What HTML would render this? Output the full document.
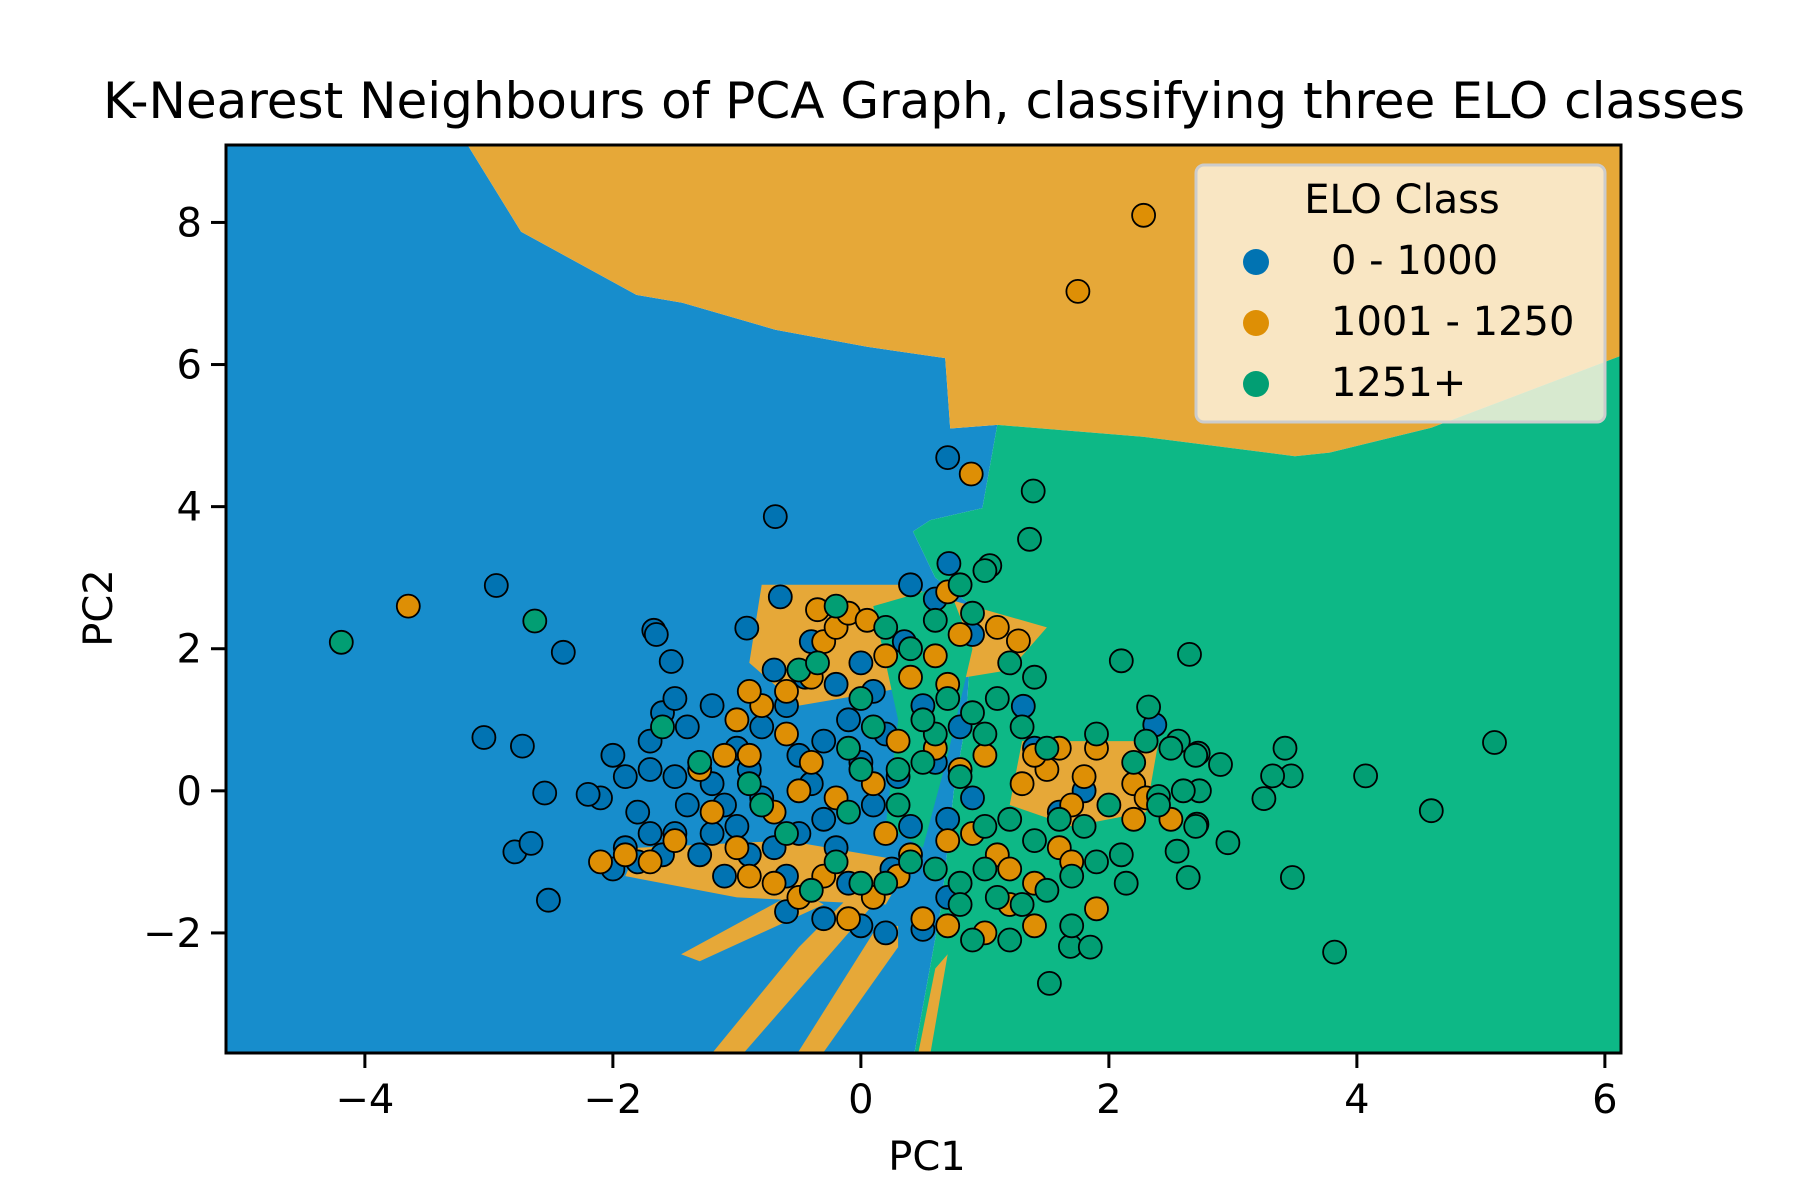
<!DOCTYPE html>
<html><head><meta charset="utf-8"><style>
html,body{margin:0;padding:0;background:#fff}
svg{display:block;font-family:"DejaVu Sans","Liberation Sans",sans-serif}
</style></head><body>
<svg id="chart" width="1800" height="1200" viewBox="0 0 1800 1200">
<defs><clipPath id="clip"><rect x="226" y="145" width="1395" height="908"/></clipPath></defs>
<text x="924" y="118" text-anchor="middle" font-size="50" fill="#000">K-Nearest Neighbours of PCA Graph, classifying three ELO classes</text>
<g id="regions" clip-path="url(#clip)"></g>
<g id="points" clip-path="url(#clip)"></g>
<rect x="226" y="145" width="1395" height="908" fill="none" stroke="#000" stroke-width="3"/>
<g id="axes"></g>
<text x="927" y="1170" text-anchor="middle" font-size="40">PC1</text>
<text x="112" y="608" text-anchor="middle" font-size="40" transform="rotate(-90 112 608)">PC2</text>
<g>
<rect x="1196" y="165" width="409" height="257" rx="8" fill="#fbf1dc" fill-opacity="0.85" stroke="#ccc" stroke-width="3"/>
<text x="1402" y="213" text-anchor="middle" font-size="40">ELO Class</text>
<circle cx="1256" cy="262" r="13" fill="#0173b2"/>
<text x="1331" y="274" font-size="40">0 - 1000</text>
<circle cx="1256" cy="323" r="13" fill="#de8f05"/>
<text x="1331" y="335" font-size="40">1001 - 1250</text>
<circle cx="1256" cy="384" r="13" fill="#029e73"/>
<text x="1331" y="396" font-size="40">1251+</text>
</g>
</svg>
<script>
const xTicks=[-4,-2,0,2,4,6];
const yTicks=[-2,0,2,4,6,8];
const blueRegion=[[-5.2,9.2],[-3.21,9.2],[-2.74,7.87],[-1.81,6.98],[-1.44,6.87],[-0.69,6.49],[0.05,6.25],[0.68,6.09],[0.72,5.1],[1.1,5.15],[0.98,3.98],[0.56,3.81],[0.42,3.65],[0.6,3.0],[0.9,2.6],[0.85,1.0],[0.75,0.0],[0.65,-1.6],[0.42,-3.8],[-5.2,-3.8]];
const orangeTop=[[-3.21,9.2],[6.2,9.2],[6.2,6.17],[4.6,5.11],[3.78,4.76],[3.5,4.71],[2.29,4.98],[1.1,5.15],[0.72,5.1],[0.68,6.09],[0.05,6.25],[-0.69,6.49],[-1.44,6.87],[-1.81,6.98],[-2.74,7.87]];
const greenRegion=[[1.1,5.15],[2.29,4.98],[3.5,4.71],[3.78,4.76],[4.6,5.11],[6.2,6.17],[6.2,-3.8],[0.42,-3.8],[0.65,-1.6],[0.75,0.0],[0.85,1.0],[0.9,2.6],[0.6,3.0],[0.42,3.65],[0.56,3.81],[0.98,3.98]];
const orangePatches=[
[[-1.25,-3.8],[-1.0,-3.8],[-0.2,-2.2],[0.1,-1.6],[-0.1,-1.5],[-0.5,-2.2]],
[[-0.55,-3.8],[-0.35,-3.8],[0.3,-2.2],[0.3,-1.9],[0.1,-2.0]],
[[-1.45,-2.3],[-0.5,-1.4],[-0.3,-1.6],[-1.3,-2.4]],
[[-0.8,2.9],[0.3,2.9],[1.1,2.5],[1.5,2.3],[1.2,1.7],[0.5,1.5],[-0.5,1.2],[-0.9,1.8]],
[[1.3,0.7],[2.4,0.7],[2.3,-0.3],[1.7,-0.5],[1.2,-0.2]],
[[0.45,-3.8],[0.55,-3.8],[0.7,-2.3],[0.6,-2.5]],
[[-1.8,-0.8],[-0.6,-0.7],[0.4,-1.0],[0.2,-1.6],[-1.0,-1.5],[-1.9,-1.2]]];
const greenPatches=[[[0.1,2.6],[0.7,2.9],[0.9,2.0],[0.7,0.5],[0.5,-0.8],[0.2,-0.5],[0.3,1.0]]];
const blueX=[-0.69,-2.94,-2.4,-3.04,-2.73,-2.55,-2.52,-2.79,-2.66,0.7,0.71,2.37,-1.67,-1.65,-1.53,-0.92,-0.65,1.31,-2.0,-1.9,-2.1,-1.8,-1.7,-1.6,-1.5,-1.4,-1.3,-1.2,-1.1,-1.0,-0.9,-1.5,-1.6,-1.8,-2.0,-1.9,-1.3,-1.1,-0.8,-0.7,-0.6,-0.5,-0.4,-0.3,-0.2,-0.1,-0.6,-0.6,-0.3,0.0,0.2,0.5,0.7,0.4,0.3,0.2,0.1,0.0,-0.2,-0.4,-0.1,0.1,0.5,0.6,0.7,0.8,0.9,0.6,0.4,0.35,-0.5,-0.8,-1.0,-1.2,-1.7,-1.4,-0.9,-0.3,0.0,-2.2,-1.5,1.4,1.8,1.6,0.25,-0.7,-1.2,-1.7,0.9,-0.45];
const blueY=[3.86,2.89,1.95,0.75,0.63,-0.03,-1.54,-0.86,-0.74,4.69,3.2,0.93,2.26,2.2,1.82,2.29,2.73,1.19,0.5,0.2,-0.1,-0.3,0.7,1.1,1.3,0.9,0.4,0.1,-0.2,-0.5,-0.9,-0.6,-0.9,-1.0,-1.1,-0.8,-0.9,-1.2,0.9,1.7,1.2,0.5,0.1,-0.4,-0.8,-1.3,-1.2,-1.7,-1.8,-1.9,-2.0,-1.95,-1.5,-0.5,0.2,0.8,1.4,1.8,1.5,2.1,1.0,-0.2,1.2,0.4,-0.4,0.9,2.2,2.7,2.9,2.1,-0.6,-0.1,0.6,1.2,0.3,-0.2,0.3,0.7,0.4,-0.05,0.2,0.6,0.0,-0.3,-1.1,-0.8,-0.6,-0.6,-0.1,1.6];
const orangeX=[-3.65,2.28,1.75,0.89,1.9,1.27,-2.1,-1.9,-1.7,-1.5,-1.3,-1.1,-1.0,-0.8,-0.6,-0.4,-0.3,-0.2,-0.1,0.05,0.2,0.4,0.6,0.7,0.8,1.1,-0.9,-0.7,-0.5,-0.3,-0.1,0.1,0.3,0.5,0.7,0.9,1.1,1.2,1.4,1.6,1.7,1.9,1.8,2.2,2.3,2.2,2.5,1.7,1.5,1.3,1.0,0.8,0.6,0.3,0.1,-0.2,-0.4,-0.6,-0.9,-1.2,-1.0,-0.7,-0.5,0.2,0.4,0.7,1.0,1.4,1.2,-0.9,-0.35,0.7,1.4,1.6];
const orangeY=[2.6,8.1,7.03,4.46,-1.66,2.11,-1.0,-0.9,-1.0,-0.7,0.3,0.5,1.0,1.2,1.4,1.6,2.1,2.3,2.5,2.4,1.9,1.6,1.9,1.5,2.2,2.3,-1.2,-1.3,-1.5,-1.2,-1.8,-1.5,-1.2,-1.8,-0.7,-0.6,-0.9,-1.1,-1.3,-0.8,-1.0,0.6,0.2,0.1,-0.1,-0.4,-0.4,-0.2,0.3,0.1,0.5,0.3,0.6,0.7,0.1,-0.1,0.4,0.8,0.5,-0.3,-0.8,-0.3,0.0,-0.6,-0.9,-1.9,-2.0,-1.9,-1.6,1.4,2.55,2.8,0.5,0.6];
const greenX=[-4.19,-2.63,1.39,1.36,1.04,2.1,2.65,5.11,4.07,4.6,3.82,3.48,3.42,3.47,3.32,3.25,2.96,2.9,2.64,2.55,2.32,1.52,1.69,2.72,2.73,2.71,2.4,2.56,2.14,-1.6,-1.3,-0.9,-0.8,-0.5,-0.35,-0.2,0.0,0.2,0.1,0.3,0.3,0.0,-0.2,-0.4,0.2,0.4,0.6,0.8,1.0,1.1,1.3,1.5,1.7,1.9,0.9,1.2,1.7,1.85,0.8,0.5,0.6,0.7,0.8,1.0,1.1,1.2,1.4,1.5,1.2,1.4,1.8,2.0,2.2,2.3,2.4,2.1,1.9,1.6,1.0,0.9,0.6,0.4,0.8,1.0,0.9,0.0,-0.1,-0.6,-0.1,2.7,2.6,2.7,2.5,1.3,0.5];
const greenY=[2.09,2.39,4.22,3.54,3.17,1.83,1.92,0.68,0.21,-0.28,-2.27,-1.22,0.6,0.21,0.21,-0.11,-0.73,0.37,-1.22,-0.85,1.18,-2.71,-2.19,0.53,0.0,-0.47,-0.08,0.7,-1.3,0.9,0.4,0.1,-0.2,1.7,1.8,2.6,1.3,2.3,0.9,0.3,-0.2,-1.3,-1.0,-1.4,-1.3,-1.0,-1.1,-1.3,-1.1,-1.5,-1.6,-1.4,-1.2,-1.0,-2.1,-2.1,-1.9,-2.2,-1.6,0.4,0.8,1.3,0.2,0.8,1.3,1.8,1.6,0.6,-0.4,-0.7,-0.5,-0.2,0.4,0.7,-0.2,-0.9,0.8,-0.4,-0.5,1.1,2.4,2.0,2.9,3.1,2.5,0.3,-0.3,-0.6,0.6,-0.5,0.0,0.5,0.6,0.9,1.0];

const X0=-5.12,X1=6.13,Y0=-3.69,Y1=9.09;
const L=226,R=1621,T=145,B=1053;
function sx(v){return L+(v-X0)/(X1-X0)*(R-L);}
function sy(v){return B-(v-Y0)/(Y1-Y0)*(B-T);}
const NS='http://www.w3.org/2000/svg';
const reg=document.getElementById('regions');
const pts=document.getElementById('points');
const axes=document.getElementById('axes');
function poly(arr,fill,name){
  const p=document.createElementNS(NS,'polygon');
  p.setAttribute('points',arr.map(q=>sx(q[0]).toFixed(1)+','+sy(q[1]).toFixed(1)).join(' '));
  p.setAttribute('fill',fill);
  
  
  reg.appendChild(p);
}
poly(blueRegion,'#178dcc','region-0-1000');
poly(orangeTop,'#e6a838','region-1001-1250');
poly(greenRegion,'#0db886','region-1251');
orangePatches.forEach(a=>poly(a,'#e6a838','region-1001-1250-patch'));
greenPatches.forEach(a=>poly(a,'#0db886','region-1251-patch'));
function scatter(xs,ys,fill,name){
  for(let i=0;i<xs.length;i++){
    const c=document.createElementNS(NS,'circle');
    c.setAttribute('cx',sx(xs[i]).toFixed(1));
    c.setAttribute('cy',sy(ys[i]).toFixed(1));
    c.setAttribute('r','11.5');
    c.setAttribute('fill',fill);
    c.setAttribute('stroke','#000');
    c.setAttribute('stroke-width','1.8');
    
    
    pts.appendChild(c);
  }
}
scatter(blueX,blueY,'#0173b2','point-0-1000');
scatter(orangeX,orangeY,'#de8f05','point-1001-1250');
scatter(greenX,greenY,'#029e73','point-1251');
function lbl(v){return v<0?'\u2212'+Math.abs(v):String(v);}
xTicks.forEach(v=>{
  const x=sx(v);
  const l=document.createElementNS(NS,'line');
  l.setAttribute('x1',x);l.setAttribute('x2',x);l.setAttribute('y1',B);l.setAttribute('y2',B+15);
  l.setAttribute('stroke','#000');l.setAttribute('stroke-width','3');
  
  
  axes.appendChild(l);
  const t=document.createElementNS(NS,'text');
  t.setAttribute('x',x);t.setAttribute('y',B+60);t.setAttribute('text-anchor','middle');t.setAttribute('font-size','40');
  t.textContent=lbl(v);
  
  
  axes.appendChild(t);
});
yTicks.forEach(v=>{
  const y=sy(v);
  const l=document.createElementNS(NS,'line');
  l.setAttribute('x1',L-15);l.setAttribute('x2',L);l.setAttribute('y1',y);l.setAttribute('y2',y);
  l.setAttribute('stroke','#000');l.setAttribute('stroke-width','3');
  
  
  axes.appendChild(l);
  const t=document.createElementNS(NS,'text');
  t.setAttribute('x',L-24);t.setAttribute('y',y+14);t.setAttribute('text-anchor','end');t.setAttribute('font-size','40');
  t.textContent=lbl(v);
  
  
  axes.appendChild(t);
});
</script>
</body></html>
